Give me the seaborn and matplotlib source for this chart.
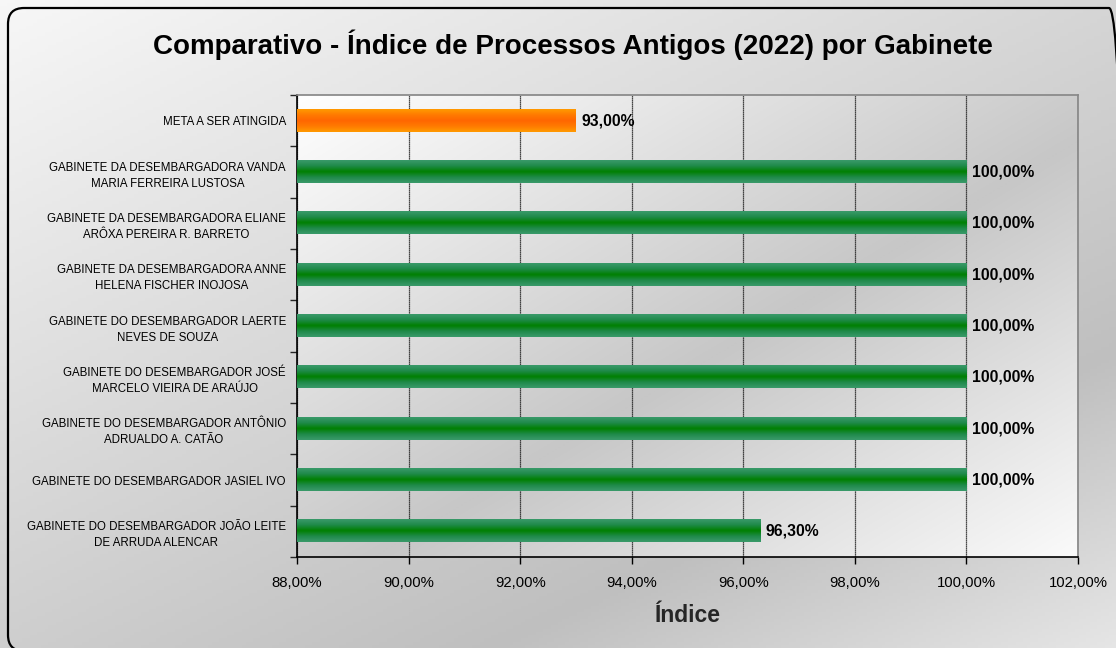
import numpy as np
import matplotlib
matplotlib.use("Agg")
import matplotlib.pyplot as plt
import seaborn as sns
import pandas as pd
from matplotlib.patches import FancyBboxPatch
from matplotlib.colors import LinearSegmentedColormap
from matplotlib.ticker import FixedLocator, FuncFormatter
from matplotlib.transforms import IdentityTransform

categories = [
    "META A SER ATINGIDA",
    "GABINETE DA DESEMBARGADORA VANDA\nMARIA FERREIRA LUSTOSA",
    "GABINETE DA DESEMBARGADORA ELIANE\nARÔXA PEREIRA R. BARRETO",
    "GABINETE DA DESEMBARGADORA ANNE\nHELENA FISCHER INOJOSA",
    "GABINETE DO DESEMBARGADOR LAERTE\nNEVES DE SOUZA",
    "GABINETE DO DESEMBARGADOR JOSÉ\nMARCELO VIEIRA DE ARAÚJO",
    "GABINETE DO DESEMBARGADOR ANTÔNIO\nADRUALDO A. CATÃO",
    "GABINETE DO DESEMBARGADOR JASIEL IVO",
    "GABINETE DO DESEMBARGADOR JOÃO LEITE\nDE ARRUDA ALENCAR",
]
values = [93.00, 100.00, 100.00, 100.00, 100.00, 100.00, 100.00, 100.00, 96.30]
kinds = ["meta", "gab", "gab", "gab", "gab", "gab", "gab", "gab", "gab"]

title = "Comparativo - Índice de Processos Antigos (2022) por Gabinete"
xlabel = "Índice"
xticks = [88, 90, 92, 94, 96, 98, 100, 102]

sns.set_theme(style="white")
plt.rcParams['font.family'] = ['Liberation Sans', 'DejaVu Sans']

W, H = 1116, 648
fig = plt.figure(figsize=(W / 100, H / 100), dpi=100)

# figure background gradient
bg = fig.add_axes([0, 0, 1, 1], zorder=-10)
yy, xx = np.mgrid[0:1:200j, 0:1:300j]
t = 0.55 * yy + 0.45 * xx
g = np.where(t < 0.75, 0.97 - (t / 0.75) * 0.22, 0.75 + (t - 0.75) / 0.25 * 0.15)
bg.imshow(np.dstack([g, g, g]), extent=[0, 1, 1, 0], aspect='auto', origin='upper')
bg.set_xlim(0, 1)
bg.set_ylim(1, 0)
bg.axis('off')
fig.patches.append(FancyBboxPatch((8, -3), 1125 - 8, 640 + 3,
                                  boxstyle="round,pad=0,rounding_size=16",
                                  transform=IdentityTransform(), fill=False,
                                  edgecolor='black', linewidth=1.6,
                                  clip_on=False, figure=fig))

left, right, top, bottom = 297, 1078, 95, 557
ax = fig.add_axes([left / W, 1 - bottom / H, (right - left) / W, (bottom - top) / H])
ax.set_facecolor('none')

df = pd.DataFrame({"cat": categories, "val": values, "kind": kinds})
sns.barplot(data=df, y="cat", x="val", hue="kind",
            palette={"meta": "#ff7a00", "gab": "#168a3c"},
            orient="h", width=0.43, legend=False, ax=ax, saturation=1)

xmin, xmax = 88, 102
n = len(categories)

# plot area gradient
py, px = np.mgrid[0:1:200j, 0:1:300j]
tt = 0.5 * py + 0.5 * px
pg = np.where(tt < 0.55, 1.0 - (tt / 0.55) * 0.22, 0.78 + (tt - 0.55) / 0.45 * 0.2)
ax.imshow(np.dstack([pg, pg, pg]), extent=[xmin, xmax, n - 0.5, -0.5],
          aspect='auto', zorder=-5)

# bar gradients
green = LinearSegmentedColormap.from_list("g", ["#3a9a6a", "#1f8a4a", "#008000", "#1f8a4a", "#3a9a6a"])
orange = LinearSegmentedColormap.from_list("o", ["#ff9a00", "#ff7a00", "#ff6600", "#ff7a00", "#ff9a00"])
grad = np.linspace(0, 1, 64).reshape(-1, 1)
for patch, kind in zip(ax.patches, kinds):
    x0, y0 = patch.get_x(), patch.get_y()
    w, h = patch.get_width(), patch.get_height()
    cmap = orange if kind == "meta" else green
    ax.imshow(grad, cmap=cmap, extent=[max(x0, xmin), x0 + w, y0 + h, y0],
              aspect='auto', zorder=3, interpolation='bicubic')
    patch.set_edgecolor('none')

for patch, v in zip(ax.patches, values):
    ax.annotate(f"{v:.2f}%".replace('.', ','),
                (v, patch.get_y() + patch.get_height() / 2),
                xytext=(4, 0), textcoords='offset points',
                ha='left', va='center', fontsize=11.3, fontweight='bold',
                color='black', zorder=5)

ax.set_xlim(xmin, xmax)
ax.set_ylim(n - 0.5, -0.5)
ax.xaxis.set_major_locator(FixedLocator(xticks))
ax.xaxis.set_major_formatter(FuncFormatter(lambda v, p: f"{v:.2f}%".replace('.', ',')))
ax.grid(axis='x', color='#111111', linewidth=0.9, linestyle=(0, (1, 0.6)), zorder=1)
ax.set_axisbelow(True)
ax.tick_params(axis='x', labelsize=10.7, colors='black', length=5, width=1,
               direction='out', bottom=True, pad=9)
ax.tick_params(axis='y', which='major', length=0, labelsize=8.3, pad=8, colors='black')
ax.set_yticks(np.arange(-0.5, n, 1.0), minor=True)
ax.tick_params(axis='y', which='minor', length=5, width=1, left=True, direction='out')
for lbl in ax.get_yticklabels():
    lbl.set_multialignment('center')
    lbl.set_linespacing(1.45)

ax.spines['left'].set_color('black')
ax.spines['bottom'].set_color('black')
ax.spines['left'].set_linewidth(1.2)
ax.spines['bottom'].set_linewidth(1.2)
ax.spines['top'].set_color('#888888')
ax.spines['right'].set_color('#888888')
ax.set_ylabel("")
ax.set_xlabel(xlabel, fontsize=16.5, fontweight='bold', labelpad=10)

fig.text(573 / W, 1 - 45 / H, title, ha='center', va='center',
         fontsize=20, fontweight='bold', color='black')

fig.savefig("out.png", dpi=100)
